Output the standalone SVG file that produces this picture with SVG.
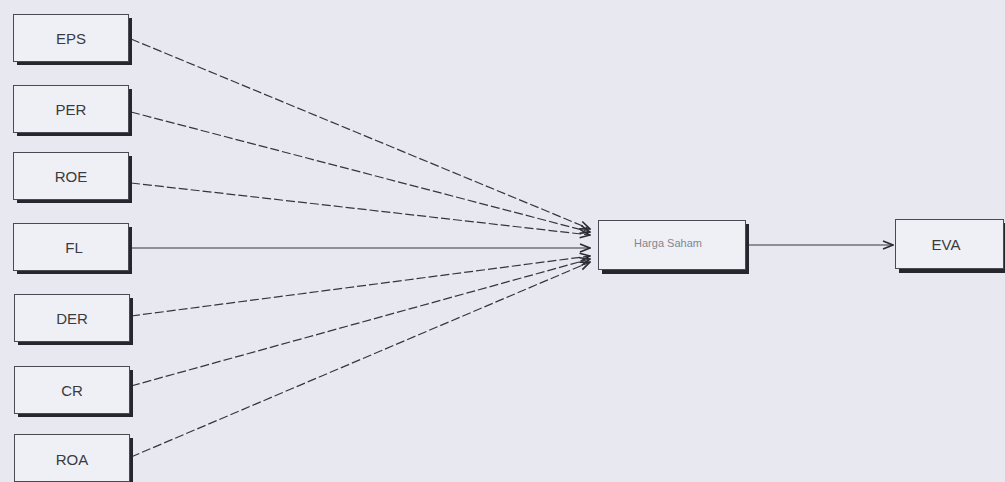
<svg xmlns="http://www.w3.org/2000/svg" width="1005" height="482" viewBox="0 0 1005 482">
<style>
.bg{fill:#e8e9f0}
.box{fill:#eef0f6;stroke:#4a4a52;stroke-width:1}
.sh{fill:#26262e}
.lbl{font-family:"Liberation Sans",Arial,sans-serif;font-size:15px;fill:#3a3a40;text-anchor:middle;dominant-baseline:central}
.small{font-size:11px;fill:#85858f}
.c{fill:none;stroke:#35353c;stroke-width:1.2}
.d{stroke-dasharray:9 3}
</style>
<defs>
<marker id="ah" viewBox="0 0 12 10" refX="11" refY="5" markerWidth="12" markerHeight="10" markerUnits="userSpaceOnUse" orient="auto">
<path d="M1,1 L11,5 L1,9" fill="none" stroke="#2a2a30" stroke-width="1.6"/>
</marker>
</defs>
<rect class="bg" x="0" y="0" width="1005" height="482"/>
<g id="connectors">
<path class="c d" d="M131,39 L590,229" marker-end="url(#ah)"/>
<path class="c d" d="M131,112 L590,232" marker-end="url(#ah)"/>
<path class="c d" d="M131,183 L590,235" marker-end="url(#ah)"/>
<path class="c" d="M131,248 L590,248" marker-end="url(#ah)"/>
<path class="c d" d="M131,316 L590,256" marker-end="url(#ah)"/>
<path class="c d" d="M131,386 L590,259" marker-end="url(#ah)"/>
<path class="c d" d="M131,457 L590,262" marker-end="url(#ah)"/>
<path class="c" d="M748,245 L893,245" marker-end="url(#ah)"/>
</g>
<g id="n-eps">
<rect class="sh" x="17" y="18" width="115" height="47"/>
<rect class="box" x="13.5" y="14.5" width="115" height="47"/>
<text class="lbl" x="71" y="38">EPS</text>
</g>
<g id="n-per">
<rect class="sh" x="17" y="89" width="115" height="47"/>
<rect class="box" x="13.5" y="85.5" width="115" height="47"/>
<text class="lbl" x="71" y="109">PER</text>
</g>
<g id="n-roe">
<rect class="sh" x="17" y="156" width="115" height="47"/>
<rect class="box" x="13.5" y="152.5" width="115" height="47"/>
<text class="lbl" x="71" y="176">ROE</text>
</g>
<g id="n-fl">
<rect class="sh" x="17" y="227" width="115" height="47"/>
<rect class="box" x="13.5" y="223.5" width="115" height="47"/>
<text class="lbl" x="74" y="247">FL</text>
</g>
<g id="n-der">
<rect class="sh" x="18" y="298" width="115" height="47"/>
<rect class="box" x="14.5" y="294.5" width="115" height="47"/>
<text class="lbl" x="72" y="318">DER</text>
</g>
<g id="n-cr">
<rect class="sh" x="18" y="370" width="115" height="47"/>
<rect class="box" x="14.5" y="366.5" width="115" height="47"/>
<text class="lbl" x="72" y="390">CR</text>
</g>
<g id="n-roa">
<rect class="sh" x="18" y="438" width="115" height="47"/>
<rect class="box" x="14.5" y="434.5" width="115" height="47"/>
<text class="lbl" x="72" y="459">ROA</text>
</g>
<g id="n-harga">
<rect class="sh" x="602" y="224" width="147" height="50"/>
<rect class="box" x="598.5" y="220.5" width="147" height="49"/>
<text class="lbl small" x="668" y="243">Harga Saham</text>
</g>
<g id="n-eva">
<rect class="sh" x="899" y="223" width="110" height="50"/>
<rect class="box" x="895.5" y="219.5" width="108" height="49"/>
<text class="lbl" x="946" y="244">EVA</text>
</g>
</svg>
